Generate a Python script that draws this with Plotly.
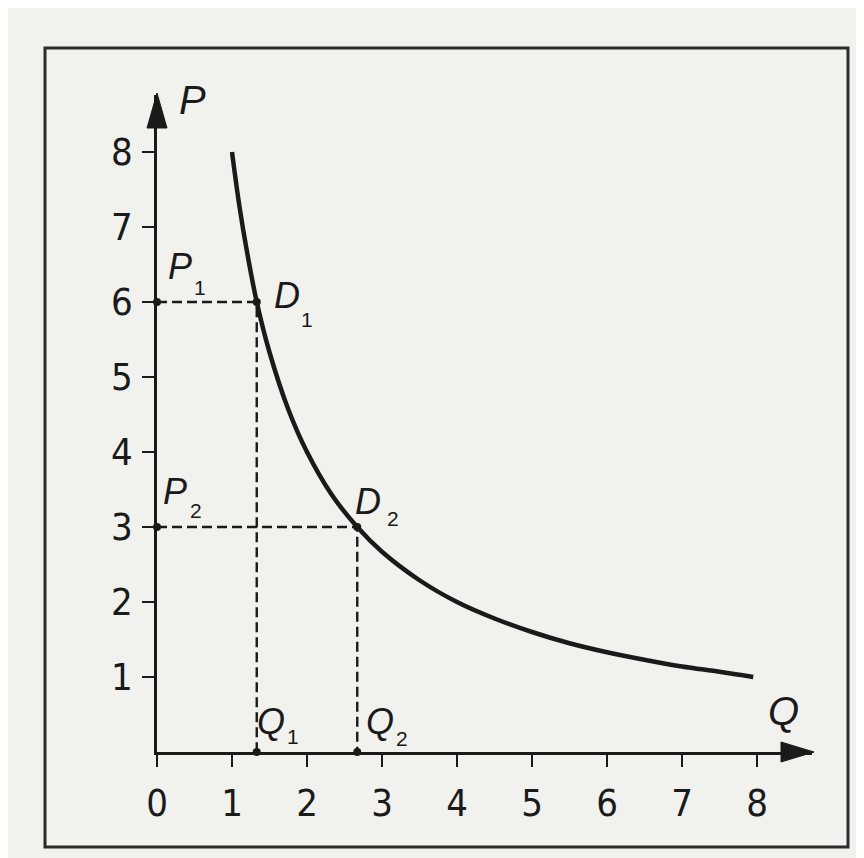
import plotly.graph_objects as go

# ---- data ----
demand_q = [1.0, 1.1, 1.2, 1.33, 1.5, 1.75, 2.0, 2.33, 2.67, 3.0, 3.5, 4.0, 4.5, 5.0, 5.5, 6.0, 6.5, 7.0, 7.5, 7.95]
demand_p = [8.0, 7.27, 6.67, 6.0, 5.33, 4.57, 4.0, 3.43, 3.0, 2.67, 2.29, 2.0, 1.78, 1.6, 1.45, 1.33, 1.23, 1.14, 1.07, 1.0]
point_q = [1.33, 2.67]          # Q1, Q2
point_p = [6.0, 3.0]            # P1, P2
x_ticks = [0, 1, 2, 3, 4, 5, 6, 7, 8]
y_ticks = [1, 2, 3, 4, 5, 6, 7, 8]

# ---- layout constants (pixels, in window coordinates) ----
OFF = 8                      # default page margin of the html body
WIN_W, WIN_H = 864, 858
W, H = WIN_W - OFF, WIN_H - OFF
X0, X1 = 157, 812            # plot area in window pixels
Y1, Y0 = 95, 752
L, R, T, B = X0 - OFF, WIN_W - X1, Y1 - OFF, WIN_H - Y0
PW, PH = X1 - X0, Y0 - Y1
UNIT = 75.0
XMAX = PW / UNIT
YMAX = PH / UNIT

def px(x):  # window pixel x -> paper
    return (x - X0) / PW

def py(y):  # window pixel y -> paper
    return (Y0 - y) / PH

tick_fam = "DejaVu Sans Condensed, Liberation Sans Narrow, Liberation Sans, sans-serif"
lab_fam = "Liberation Sans, Arial, sans-serif"
ink = "#1a1a1a"

fig = go.Figure()

# dashed guide lines
for q, p in zip(point_q, point_p):
    fig.add_trace(go.Scatter(x=[0, q, q], y=[p, p, 0], mode="lines",
                             line=dict(color=ink, width=2.4, dash="10px,5px"),
                             hoverinfo="skip", showlegend=False, cliponaxis=False))

# demand curve
fig.add_trace(go.Scatter(x=demand_q, y=demand_p, mode="lines",
                         line=dict(color=ink, width=4.5, shape="spline", smoothing=1.0),
                         hoverinfo="skip", showlegend=False))

# dots at the intersections
dot_x = [0, point_q[0], 0, point_q[1], point_q[0], point_q[1]]
dot_y = [point_p[0], point_p[0], point_p[1], point_p[1], 0, 0]
fig.add_trace(go.Scatter(x=dot_x, y=dot_y, mode="markers",
                         marker=dict(color=ink, size=8),
                         hoverinfo="skip", showlegend=False, cliponaxis=False))

shapes = [
    # outer frame
    dict(type="rect", xref="paper", yref="paper",
         x0=px(45), x1=px(848), y0=py(847), y1=py(48),
         line=dict(color="#2b2b2b", width=3)),
    # x arrow head
    dict(type="path", xref="paper", yref="paper",
         path=f"M {px(814)},{py(752)} L {px(781)},{py(742)} L {px(781)},{py(762)} Z",
         fillcolor=ink, line=dict(color=ink, width=1)),
    # y arrow head
    dict(type="path", xref="paper", yref="paper",
         path=f"M {px(157)},{py(93)} L {px(147)},{py(128)} L {px(167)},{py(128)} Z",
         fillcolor=ink, line=dict(color=ink, width=1)),
]

def label(xp, yp, text, size, italic=True):
    return dict(xref="paper", yref="paper", x=px(xp), y=py(yp), text=text,
                showarrow=False, xanchor="center", yanchor="middle", borderpad=0,
                font=dict(size=size, family=lab_fam, color=ink,
                          style="italic" if italic else "normal"))

BIG, MID, SUB = 40, 36, 21
annotations = [
    label(192, 100, "P", BIG),
    label(783, 711, "Q", BIG),
    label(180, 266, "P", MID), label(200, 287, "1", SUB, False),
    label(287, 295, "D", MID), label(307, 319, "1", SUB, False),
    label(175, 491, "P", MID), label(196, 510, "2", SUB, False),
    label(368, 501, "D", MID), label(393, 518, "2", SUB, False),
    label(271, 721, "Q", MID), label(293, 736, "1", SUB, False),
    label(380, 721, "Q", MID), label(402, 738, "2", SUB, False),
]

fig.update_layout(
    width=W, height=H, autosize=False,
    margin=dict(l=L, r=R, t=T, b=B),
    paper_bgcolor="#f1f2ee", plot_bgcolor="rgba(0,0,0,0)",
    shapes=shapes, annotations=annotations,
    font=dict(family=tick_fam, color=ink, size=34),
)
fig.update_xaxes(range=[0, XMAX], showgrid=False, zeroline=False,
                 showline=True, linecolor=ink, linewidth=2.5,
                 ticks="outside", tickvals=x_ticks, ticktext=[str(v) for v in x_ticks],
                 ticklen=12, tickwidth=2, tickcolor=ink,
                 tickfont=dict(size=38, family=tick_fam, color=ink),
                 ticklabelstandoff=4, fixedrange=True)
fig.update_yaxes(range=[0, YMAX], showgrid=False, zeroline=False,
                 showline=True, linecolor=ink, linewidth=2.5,
                 ticks="outside", tickvals=y_ticks, ticktext=[str(v) for v in y_ticks],
                 ticklen=12, tickwidth=2, tickcolor=ink,
                 tickfont=dict(size=38, family=tick_fam, color=ink),
                 ticklabelstandoff=2, fixedrange=True)

fig.write_html("out.html")
